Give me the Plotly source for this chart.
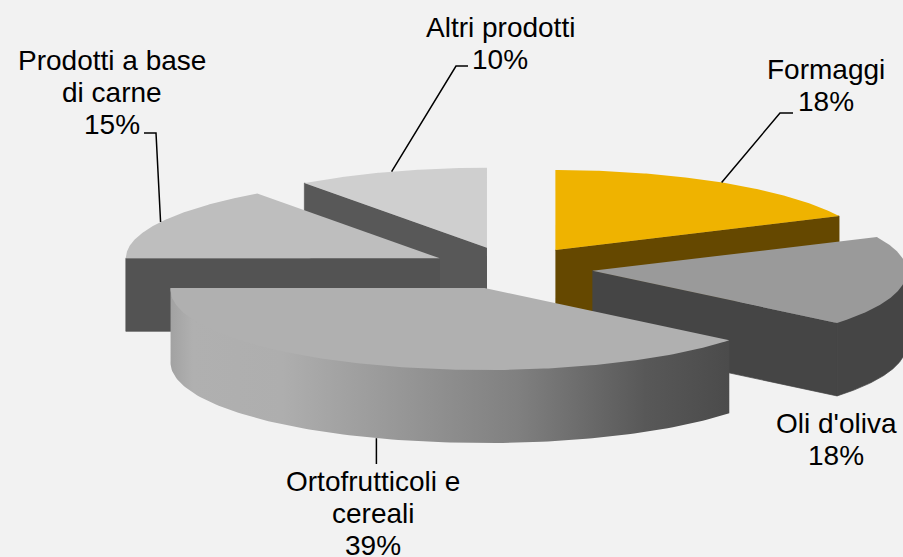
import math
import numpy as np
import plotly.graph_objects as go

# Data, clockwise from 12 o'clock
categories = ["Formaggi", "Oli d'oliva", "Ortofrutticoli e cereali", "Prodotti a base di carne", "Altri prodotti"]
values = [18, 18, 39, 15, 10]
label_lines = [["Formaggi", "18%"], ["Oli d'oliva", "18%"], ["Ortofrutticoli e", "cereali", "39%"],
               ["Prodotti a base", "di carne", "15%"], ["Altri prodotti", "10%"]]

# Styles
top_colors = ["#efb300", "#9a9a9a", "#b0b0b0", "#bebebe", "#cfcfcf"]
side_colors = ["#654800", "#454545", "#4d4d4d", "#535353", "#585858"]
rim_gradients = {2: [[0, "#a2a2a2"], [0.04, "#b0b0b0"], [0.2, "#aeaeae"], [0.62, "#808080"], [0.85, "#585858"], [1, "#4b4b4b"]]}
draw_order = [4, 3, 0, 1, 2]

# Projection of the tilted pie
CX, CY = 512.0, 268.0
RX = 314.0
RY_BACK, RY_FRONT = 80.0, 82.0
EX, EY = 81.0, 21.3
DEPTH = 73.0
PERSP_FRONT, PERSP_BACK = 0.018, 0.02

# Label placement and leader-line elbows
label_centres = [(826, 69), (836, 423), (373, 481), (112, 60), (500, 27)]
LINE_PITCH = 32.3
leader_elbows = [[(780, 113), (793, 113)], None, [], [(156, 133), (144, 133)], [(456, 66), (468, 66)]]

total = sum(values)
edges = np.cumsum([0] + values) / total * 360.0


def apex(i):
    mid = math.radians((edges[i] + edges[i + 1]) / 2)
    return CX + EX * math.sin(mid), CY - EY * math.cos(mid)


def rim(i, deg, scale=1.0):
    ax, ay = apex(i)
    t = np.radians(deg)
    c = np.cos(t)
    sx = 1 + PERSP_FRONT * np.clip(-c, 0, 1) - PERSP_BACK * np.clip(c, 0, 1) ** 3
    ry = np.where(c > 0, RY_BACK, RY_FRONT)
    return ax + scale * RX * sx * np.sin(t), ay - scale * ry * c


def poly(xs, ys, color=None, gradient=None, name=None, seal=False):
    kw = dict(fillgradient=dict(type="horizontal", colorscale=gradient)) if gradient else dict(fillcolor=color)
    line = dict(width=0.7, color=color) if seal and not gradient else dict(width=0)
    return go.Scatter(x=list(xs), y=list(ys), mode="lines", fill="toself", line=line,
                      hoverinfo="skip", showlegend=False, name=name, **kw)


fig = go.Figure()
for i in draw_order:
    a0, a1 = edges[i], edges[i + 1]
    ax, ay = apex(i)
    # visible cut face
    if 180 < a0 < 360:
        ex, ey = rim(i, a0)
        fig.add_trace(poly([ax, ex, ex, ax], [ay, ey, ey + DEPTH, ay + DEPTH], side_colors[i], seal=True))
    if 0 < a1 < 180:
        ex, ey = rim(i, a1)
        fig.add_trace(poly([ax, ex, ex, ax], [ay, ey, ey + DEPTH, ay + DEPTH], side_colors[i], seal=True))
    # visible outer rim; its upper edge tucks under the top face between the true corners
    r0, r1 = max(a0, 90), min(a1, 270)
    if r1 > r0:
        t = np.linspace(r0, r1, 120)
        rx_, ry_ = rim(i, t)
        ix_, iy_ = rim(i, t[1:-1], 0.985)
        fig.add_trace(poly(np.r_[rx_, rx_[-1], ix_[::-1], rx_[0]],
                           np.r_[ry_ + DEPTH, ry_[-1], iy_[::-1], ry_[0]],
                           side_colors[i], rim_gradients.get(i), seal=True))
    # top face
    t = np.linspace(a0, a1, 160)
    rx_, ry_ = rim(i, t)
    fig.add_trace(poly(np.r_[ax, rx_, ax], np.r_[ay, ry_, ay], top_colors[i], name=categories[i]))

# Leader lines
for i, elbow in enumerate(leader_elbows):
    if elbow is None:
        continue
    mid = (edges[i] + edges[i + 1]) / 2
    sx, sy = rim(i, mid)
    if 90 < mid < 270:
        sy = sy + DEPTH
        elbow = [(float(sx), 464)]
    pts = [(float(sx), float(sy))] + elbow
    fig.add_trace(go.Scatter(x=[p[0] for p in pts], y=[p[1] for p in pts], mode="lines",
                             line=dict(color="#000000", width=1.5), hoverinfo="skip", showlegend=False))

# Labels
for lines, (lx, ly) in zip(label_lines, label_centres):
    for k, line in enumerate(lines):
        fig.add_annotation(x=lx, y=ly + k * LINE_PITCH, text=line, showarrow=False, xanchor="center", yanchor="middle",
                           font=dict(family="Liberation Sans", size=28, color="#000000"))

fig.update_layout(width=903, height=557, margin=dict(l=0, r=0, t=0, b=0), paper_bgcolor="#f2f2f2",
                  plot_bgcolor="#f2f2f2", showlegend=False,
                  xaxis=dict(range=[0, 903], visible=False, fixedrange=True),
                  yaxis=dict(range=[557, 0], visible=False, fixedrange=True))
fig.write_html("out.html", config={"displayModeBar": False},
               post_script="document.body.style.margin='0';document.documentElement.style.overflow='hidden';document.body.style.background='#f2f2f2';")
